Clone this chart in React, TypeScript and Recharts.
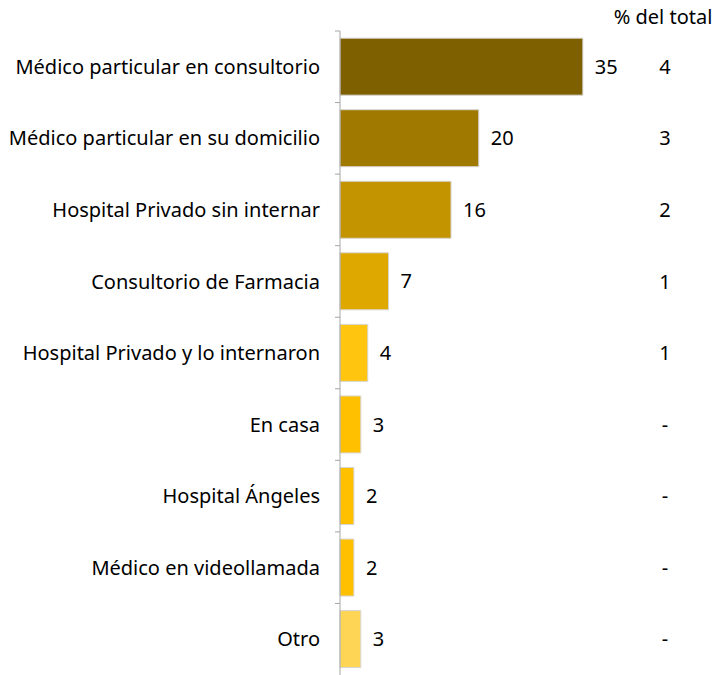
import React from "react";
import { BarChart, Bar, XAxis, YAxis, Cell, LabelList } from "recharts";

const categories = [
  "Médico particular en consultorio",
  "Médico particular en su domicilio",
  "Hospital Privado sin internar",
  "Consultorio de Farmacia",
  "Hospital Privado y lo internaron",
  "En casa",
  "Hospital Ángeles",
  "Médico en videollamada",
  "Otro",
];
const values = [35, 20, 16, 7, 4, 3, 2, 2, 3];
const pctOfTotal = ["4", "3", "2", "1", "1", "-", "-", "-", "-"];
const pctHeader = "% del total";
const barColors = [
  "#7F6000",
  "#A07A00",
  "#C49300",
  "#DFA800",
  "#FFC50F",
  "#FFC000",
  "#FFC000",
  "#FFC000",
  "#FFD555",
];

const data = categories.map((name, i) => ({ name, value: values[i], pct: pctOfTotal[i] }));

const FONT = "'Noto Sans', sans-serif";
const FS = 20;
const AXIS_COLOR = "#A6A6A6";
const TICK_MARGIN = 20;
const TICK_LEN = 5;

const CategoryTick = (props: any) => {
  const { x, y, payload } = props;
  const axisX = x + TICK_MARGIN;
  const half = payload && payload.offset ? payload.offset : 0;
  return (
    <g>
      <line x1={axisX - TICK_LEN} x2={axisX} y1={y - half} y2={y - half} stroke={AXIS_COLOR} strokeWidth={1} />
      <text x={x} y={y} dy="0.355em" textAnchor="end" fill="#000" fontSize={FS} fontFamily={FONT}>
        {payload.value}
      </text>
    </g>
  );
};

const HeaderLabel = (props: any) => {
  const vb = props.viewBox || { x: 0, y: 0, width: 0 };
  return (
    <text x={vb.x - 17} y={vb.y - 7} textAnchor="middle" fill="#000" fontSize={FS} fontFamily={FONT}>
      {pctHeader}
    </text>
  );
};

export default function App() {
  return (
    <div style={{ position: "absolute", left: 0, top: 0, background: "#fff" }}>
      <BarChart
        width={716}
        height={675}
        data={data}
        layout="vertical"
        margin={{ top: 31, right: 0, bottom: 0, left: 0 }}
        barCategoryGap="10%"
        style={{ fontFamily: FONT }}
      >
        <XAxis type="number" domain={[0, 49]} hide />
        <YAxis
          yAxisId="cat"
          type="category"
          dataKey="name"
          width={340}
          axisLine={{ stroke: AXIS_COLOR }}
          tickLine={false}
          tickSize={0}
          tickMargin={TICK_MARGIN}
          interval={0}
          tick={<CategoryTick />}
        />
        <YAxis
          yAxisId="pct"
          orientation="right"
          type="category"
          dataKey="name"
          width={36}
          axisLine={false}
          tickLine={false}
          tickSize={0}
          tickMargin={-15}
          interval={0}
          tickFormatter={(_v: string, i: number) => pctOfTotal[i]}
          tick={{ fill: "#000", fontSize: FS, fontFamily: FONT, textAnchor: "middle" }}
          label={<HeaderLabel />}
        />
        <Bar dataKey="value" yAxisId="cat" isAnimationActive={false} stroke="#D6D6D6" strokeWidth={1}>
          {data.map((d, i) => (
            <Cell key={d.name} fill={barColors[i]} />
          ))}
          <LabelList dataKey="value" position="right" offset={12} fill="#000" fontSize={FS} fontFamily={FONT} />
        </Bar>
      </BarChart>
    </div>
  );
}
